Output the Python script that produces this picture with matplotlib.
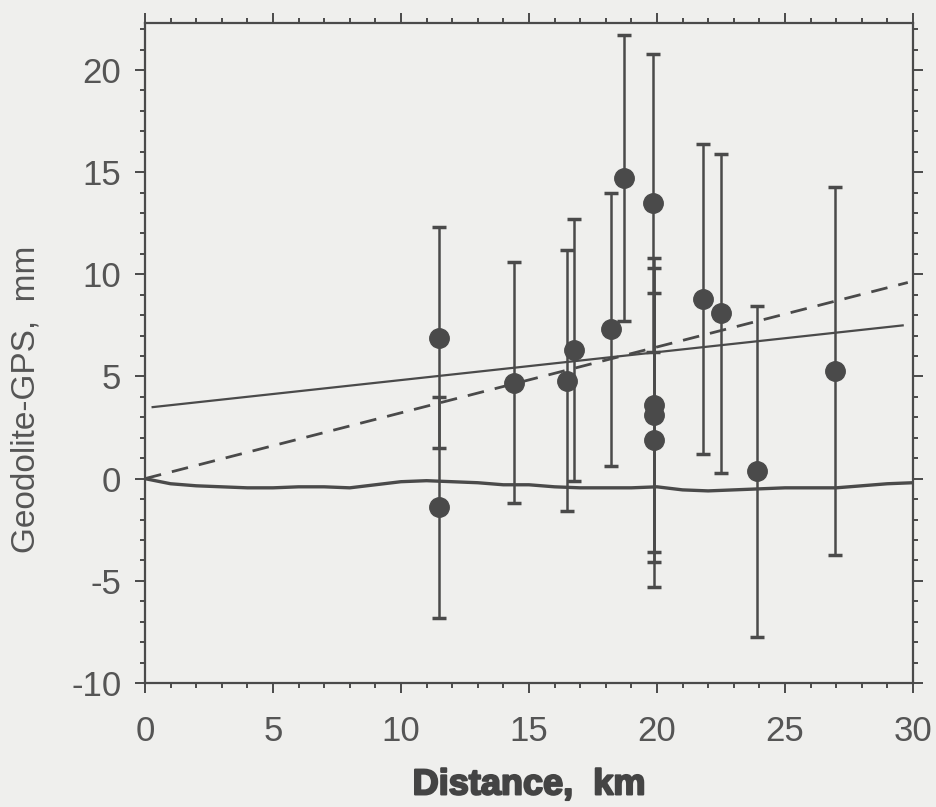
import matplotlib
matplotlib.use("Agg")
import matplotlib.pyplot as plt
import matplotlib.patheffects as pe
from matplotlib.ticker import MultipleLocator

# Geodolite minus GPS differences
dist_km = [11.5, 11.5, 14.4, 16.5, 16.75, 18.2, 18.7, 19.85, 19.9, 19.9, 19.9, 21.8, 22.5, 23.9, 26.95]
diff_mm = [6.9, -1.4, 4.7, 4.8, 6.3, 7.3, 14.7, 13.5, 3.6, 3.1, 1.9, 8.8, 8.1, 0.35, 5.25]
err_mm = [5.4, 5.4, 5.9, 6.4, 6.4, 6.7, 7.0, 7.3, 7.2, 7.2, 7.2, 7.6, 7.8, 8.1, 9.0]

# thick wavy reference line near zero
ref_x = [0, 1, 2, 3, 4, 5, 6, 7, 8, 9, 10, 11, 12, 13, 14, 15, 16, 17, 18, 19, 20,
         21, 22, 23, 24, 25, 26, 27, 28, 29, 30]
ref_y = [0, -0.25, -0.35, -0.4, -0.45, -0.45, -0.4, -0.4, -0.45, -0.3, -0.15, -0.1,
         -0.15, -0.2, -0.3, -0.3, -0.4, -0.45, -0.45, -0.45, -0.4, -0.55, -0.6, -0.55,
         -0.5, -0.45, -0.45, -0.45, -0.35, -0.25, -0.2]

# fitted lines: solid with offset, dashed through origin
fit_x = [0.3, 29.6]
fit_y = [3.5, 7.5]
dash_x = [0, 29.8]
dash_y = [0, 9.6]

ink = '#4a4a4a'
paper = '#efefed'

plt.rcParams['font.family'] = ['Liberation Sans', 'DejaVu Sans']
plt.rcParams['axes.unicode_minus'] = False

fig = plt.figure(figsize=(9.37, 8.07), dpi=100, facecolor=paper)
ax = fig.add_axes([0.1547, 0.1537, 0.8196, 0.8178], facecolor=paper)

ax.plot(ref_x, ref_y, color=ink, lw=2.4, solid_capstyle='round')
ax.plot(fit_x, fit_y, color=ink, lw=1.6)
ax.plot(dash_x, dash_y, color=ink, lw=2.0, dashes=(6, 4))

ax.errorbar(dist_km, diff_mm, yerr=err_mm, fmt='o', color=ink, ms=14,
            ecolor=ink, elinewidth=1.8, capsize=5, capthick=2.5)

ax.set_xlim(0, 30)
ax.set_ylim(-10, 22.3)
ax.xaxis.set_major_locator(MultipleLocator(5))
ax.xaxis.set_minor_locator(MultipleLocator(1))
ax.yaxis.set_major_locator(MultipleLocator(5))
ax.yaxis.set_minor_locator(MultipleLocator(1))

ax.tick_params(which='both', direction='out', color=ink, width=1.4,
               top=True, right=True)
ax.tick_params(which='major', length=7, labelsize=25, labelcolor='#555555')
ax.tick_params(which='minor', length=3.5)
ax.tick_params(axis='x', pad=16)
ax.tick_params(axis='y', pad=10)
ax.tick_params(labeltop=False, labelright=False)
for s in ax.spines.values():
    s.set_color(ink)
    s.set_linewidth(1.6)

xl = ax.set_xlabel('Distance,  km', fontsize=26, fontweight='bold', color='#444444')
xl.set_path_effects([pe.withStroke(linewidth=1.5, foreground='#444444')])
ax.xaxis.set_label_coords(0.5, -0.128)
ax.set_ylabel('Geodolite-GPS,  mm', fontsize=24, color='#555555')
ax.yaxis.set_label_coords(-0.135, 0.43)

plt.savefig('out.png', dpi=100, facecolor=paper)
